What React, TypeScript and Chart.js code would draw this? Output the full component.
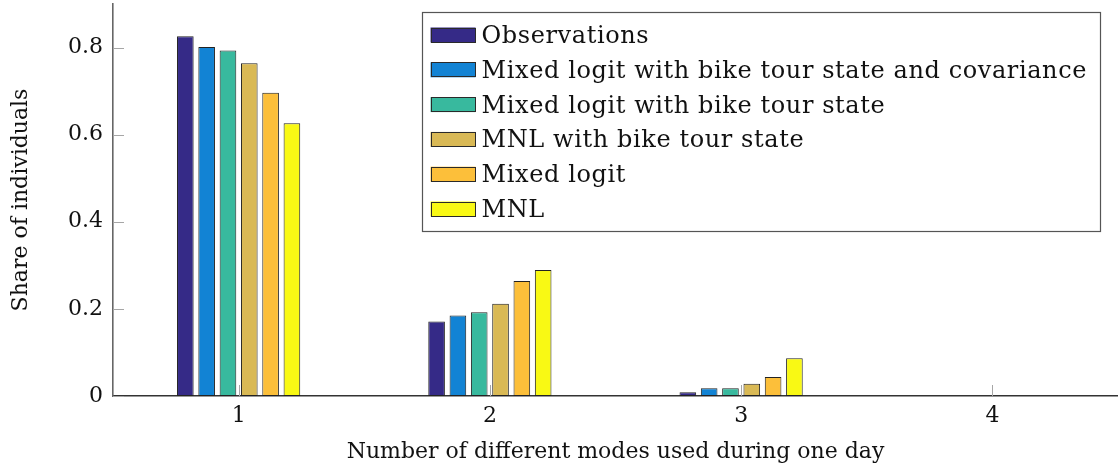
import React, { useEffect, useRef } from 'react';
import { Chart, registerables } from 'chart.js';

Chart.register(...registerables);

// Number of distinct modes used per day
const categories = ['1', '2', '3', '4'];

const seriesNames = [
  'Observations',
  'Mixed logit with bike tour state and covariance',
  'Mixed logit with bike tour state',
  'MNL with bike tour state',
  'Mixed logit',
  'MNL',
];

const seriesColors = ['#352a87', '#1283d4', '#38b99e', '#d9b955', '#fcbf3a', '#f9f914'];

// Share of individuals per category, one array per model
const observations = [0.826, 0.171, 0.0085, 0];
const mixedLogitBikeCov = [0.801, 0.185, 0.0177, 0];
const mixedLogitBike = [0.793, 0.192, 0.0177, 0];
const mnlBike = [0.764, 0.212, 0.028, 0];
const mixedLogit = [0.696, 0.264, 0.0437, 0];
const mnl = [0.626, 0.289, 0.0866, 0];

const yTickValues = [0, 0.2, 0.4, 0.6, 0.8];
const yTickLabels = ['0', '0.2', '0.4', '0.6', '0.8'];

const FONT_FAMILY = '"DejaVu Serif", serif';
const FONT_SIZE = 22;
const LEGEND_FONT_SIZE = 24;

// Short inward tick marks on both axes (drawn under the bars)
const innerTicks = {
  id: 'innerTicks',
  beforeDatasetsDraw(chart: any) {
    const { ctx, chartArea, scales } = chart;
    const len = 11;
    ctx.save();
    ctx.strokeStyle = '#a6a6a6';
    ctx.lineWidth = 1;
    ctx.beginPath();
    scales.y.ticks.forEach((t: any) => {
      const py = Math.round(scales.y.getPixelForValue(t.value)) + 0.5;
      ctx.moveTo(chartArea.left, py);
      ctx.lineTo(chartArea.left + len, py);
    });
    scales.x.ticks.forEach((_t: any, i: number) => {
      const px = Math.round(scales.x.getPixelForTick(i)) + 0.5;
      ctx.moveTo(px, chartArea.bottom);
      ctx.lineTo(px, chartArea.bottom - len);
    });
    ctx.stroke();
    ctx.restore();
  },
};

// Framed legend in the upper right corner of the plot area
const boxedLegend = {
  id: 'boxedLegend',
  afterDraw(chart: any) {
    const { ctx, chartArea } = chart;
    const datasets = chart.data.datasets;
    ctx.save();
    ctx.font = `${LEGEND_FONT_SIZE}px ${FONT_FAMILY}`;
    if ('letterSpacing' in ctx) (ctx as any).letterSpacing = '0.6px';
    let maxW = 0;
    datasets.forEach((ds: any) => {
      maxW = Math.max(maxW, ctx.measureText(ds.label).width);
    });
    const swW = 45;
    const swH = 15;
    const padL = 9;
    const gap = 6;
    const padR = 13;
    const rowH = 34.8;
    const right = chartArea.right - 18;
    const top = chartArea.top + 8;
    const width = padL + swW + gap + maxW + padR;
    const height = 219;
    const left = right - width;

    ctx.fillStyle = '#ffffff';
    ctx.fillRect(left, top, width, height);
    ctx.strokeStyle = '#555555';
    ctx.lineWidth = 1.2;
    ctx.strokeRect(Math.round(left) + 0.5, Math.round(top) + 0.5, Math.round(width), Math.round(height));

    datasets.forEach((ds: any, i: number) => {
      const cy = top + 23 + i * rowH;
      const sx = left + padL;
      ctx.fillStyle = ds.backgroundColor;
      ctx.fillRect(sx, cy - swH / 2, swW, swH);
      ctx.strokeStyle = '#2a2a2a';
      ctx.lineWidth = 1;
      ctx.strokeRect(Math.round(sx) + 0.5, Math.round(cy - swH / 2) + 0.5, swW - 1, swH - 1);
      ctx.fillStyle = '#111111';
      ctx.textBaseline = 'alphabetic';
      ctx.textAlign = 'left';
      ctx.fillText(ds.label, sx + swW + gap, cy + 8);
    });
    ctx.restore();
  },
};

export default function App() {
  const canvasRef = useRef<HTMLCanvasElement | null>(null);

  useEffect(() => {
    if (!canvasRef.current) return;
    const seriesValues = [observations, mixedLogitBikeCov, mixedLogitBike, mnlBike, mixedLogit, mnl];

    const chart = new Chart(canvasRef.current, {
      type: 'bar',
      data: {
        labels: categories,
        datasets: seriesNames.map((name, i) => ({
          label: name,
          data: seriesValues[i],
          backgroundColor: seriesColors[i],
          borderColor: '#222222',
          borderWidth: 1,
          borderSkipped: false,
          categoryPercentage: 0.509,
          barPercentage: 0.78,
        })),
      },
      options: {
        responsive: false,
        animation: false,
        devicePixelRatio: 1,
        layout: { padding: { top: 4, right: 0, bottom: 0, left: 0 } },
        plugins: {
          legend: { display: false },
          tooltip: { enabled: false },
        },
        scales: {
          x: {
            type: 'category',
            grid: { display: false, drawTicks: false },
            border: { display: true, color: '#333333', width: 1.4 },
            ticks: {
              color: '#111111',
              padding: 7,
              font: { family: FONT_FAMILY, size: FONT_SIZE },
            },
            title: {
              display: true,
              text: 'Number of different modes used during one day',
              color: '#111111',
              font: { family: FONT_FAMILY, size: FONT_SIZE },
              padding: { top: 0, bottom: 7 },
            },
            afterFit(scale: any) {
              scale.height = 76;
              scale.paddingLeft = 0;
              scale.paddingRight = 0;
            },
          },
          y: {
            type: 'linear',
            min: 0,
            max: 0.9,
            grid: { display: false, drawTicks: false },
            border: { display: true, color: '#666666', width: 1.6 },
            afterBuildTicks(scale: any) {
              scale.ticks = yTickValues.map((v) => ({ value: v }));
            },
            ticks: {
              color: '#111111',
              padding: 10,
              font: { family: FONT_FAMILY, size: FONT_SIZE },
              callback: (value: any) => {
                const idx = yTickValues.findIndex((v) => Math.abs(v - Number(value)) < 1e-9);
                return idx >= 0 ? yTickLabels[idx] : '';
              },
            },
            title: {
              display: true,
              text: 'Share of individuals',
              color: '#111111',
              font: { family: FONT_FAMILY, size: FONT_SIZE },
              padding: { top: 8, bottom: 0 },
            },
            afterFit(scale: any) {
              scale.width = 113;
              scale.paddingTop = 0;
              scale.paddingBottom = 0;
            },
          },
        },
      },
      plugins: [innerTicks, boxedLegend],
    });

    return () => {
      chart.destroy();
    };
  }, []);

  return (
    <div style={{ position: 'absolute', left: 0, top: 0, width: 1118, height: 472, background: '#ffffff' }}>
      <canvas ref={canvasRef} width={1118} height={472} style={{ display: 'block' }} />
    </div>
  );
}
